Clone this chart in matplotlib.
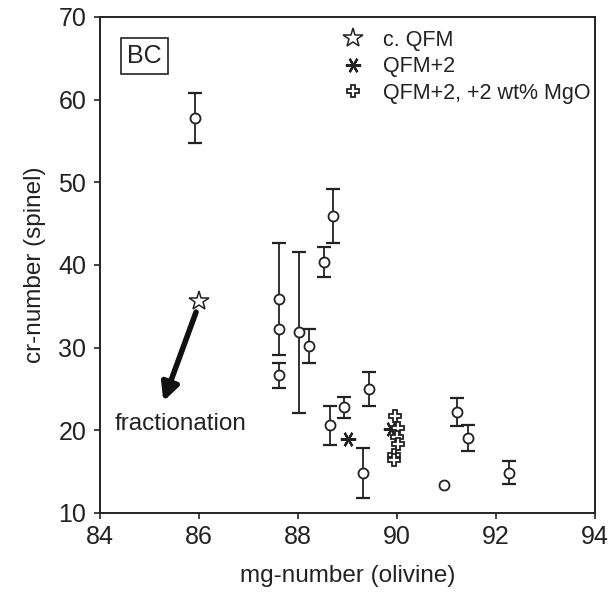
import numpy as np
import matplotlib
matplotlib.use("Agg")
import matplotlib.pyplot as plt
from matplotlib.lines import Line2D

plt.rcParams['font.family'] = ['Liberation Sans', 'DejaVu Sans']
plt.rcParams['text.color'] = '#222222'
plt.rcParams['axes.labelcolor'] = '#222222'
plt.rcParams['xtick.color'] = '#222222'
plt.rcParams['ytick.color'] = '#222222'

# open circles with error bars (err = 0 -> no bar)
circ_x = [85.92, 88.71, 88.53, 87.61, 87.61, 87.61, 88.03, 88.22,
          89.43, 88.93, 88.64, 89.32, 91.22, 91.44, 92.27, 90.95]
circ_y = [57.8, 45.9, 40.4, 35.9, 32.3, 26.65, 31.85, 30.2,
          25.0, 22.8, 20.6, 14.85, 22.2, 19.1, 14.85, 13.35]
circ_err = [3.05, 3.25, 1.8, 6.8, 0.0, 1.5, 9.7, 2.05,
            2.0, 1.25, 2.35, 3.0, 1.7, 1.6, 1.4, 0.0]

# c. QFM
star_x = [86.0]
star_y = [35.7]

# QFM+2
ast_x = [89.01, 89.87]
ast_y = [19.0, 20.2]

# QFM+2, +2 wt% MgO
plus_x = [89.95, 90.03, 90.0, 90.03, 89.93, 89.93]
plus_y = [21.7, 20.3, 19.2, 18.3, 17.0, 16.4]

# fractionation arrow (start, end)
arrow_start = (85.94, 34.3)
arrow_end = (85.28, 23.5)

fig = plt.figure(figsize=(6.11, 5.94), dpi=100)
ax = fig.add_axes([0.1637, 0.1364, 0.8101, 0.835])

cx = np.array(circ_x)
cy = np.array(circ_y)
ce = np.array(circ_err)
has = ce > 0
ax.errorbar(cx[has], cy[has], yerr=ce[has], fmt='none', ecolor='#222222',
            elinewidth=1.3, capsize=4.8, capthick=1.6, zorder=2)
ax.plot(cx, cy, 'o', ms=7.2, mfc='white', mec='#222222', mew=1.3,
        ls='none', zorder=3)

ax.plot(star_x, star_y, marker='*', ms=15, mfc='white', mec='#222222',
        mew=1.1, ls='none', zorder=4)
ax.plot(ast_x, ast_y, marker=(6, 2, 90), ms=11, mec='#222222', mew=1.6,
        ls='none', zorder=4)
ax.plot(plus_x, plus_y, marker='P', ms=9, mfc='white', mec='#222222',
        mew=1.3, ls='none', zorder=4)

ax.annotate('', xy=arrow_end, xytext=arrow_start,
            arrowprops=dict(arrowstyle='-|>', lw=4, color='#111111',
                            mutation_scale=26, shrinkA=0, shrinkB=0))
ax.text(84.3, 20.8, 'fractionation', fontsize=17.5, va='center', ha='left')

ax.text(84.55, 65.3, 'BC', fontsize=18, va='center', ha='left',
        bbox=dict(boxstyle='square,pad=0.25', fc='white', ec='#222222', lw=1.2))

handles = [
    Line2D([], [], marker='*', ms=15, mfc='white', mec='#222222', mew=1.1, ls='none'),
    Line2D([], [], marker=(6, 2, 90), ms=11, mec='#222222', mew=1.6, ls='none'),
    Line2D([], [], marker='P', ms=9, mfc='white', mec='#222222', mew=1.3, ls='none'),
]
labels = ['c. QFM', 'QFM+2', 'QFM+2, +2 wt% MgO']
ax.legend(handles, labels, loc='upper left', bbox_to_anchor=(0.442, 1.0),
          frameon=False, fontsize=15.5, handletextpad=0.4, labelspacing=0.25,
          borderaxespad=0.2)

ax.set_xlim(84, 94)
ax.set_ylim(10, 70)
ax.set_xticks([84, 86, 88, 90, 92, 94])
ax.set_yticks([10, 20, 30, 40, 50, 60, 70])
ax.tick_params(direction='out', length=4.5, width=1.2, labelsize=18)
ax.tick_params(axis='x', pad=4)
ax.tick_params(axis='y', pad=5.5)
for s in ax.spines.values():
    s.set_linewidth(1.4)
    s.set_color('#222222')
ax.set_xlabel('mg-number (olivine)', fontsize=17.5, labelpad=12)
ax.set_ylabel('cr-number (spinel)', fontsize=17.5, labelpad=9)

fig.savefig('out.png', dpi=100)
